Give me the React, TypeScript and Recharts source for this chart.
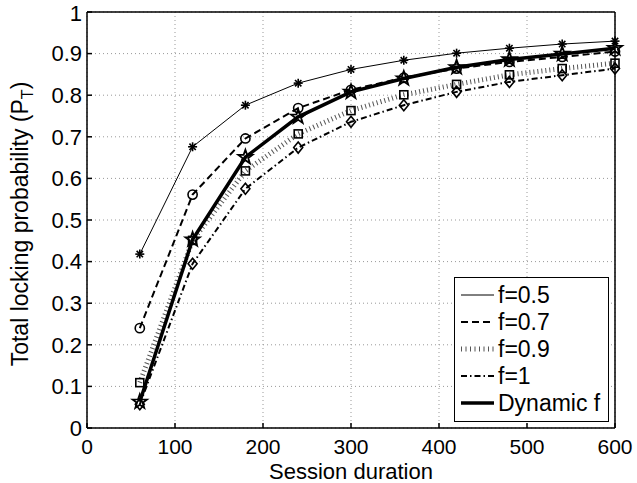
import React from "react";
import {
  LineChart,
  Line,
  XAxis,
  YAxis,
  CartesianGrid,
  Legend,
} from "recharts";

// session duration (x) and total locking probability per scheme
const sessionDuration = [60, 120, 180, 240, 300, 360, 420, 480, 540, 600];
const f05 = [0.418, 0.676, 0.776, 0.829, 0.862, 0.884, 0.901, 0.913, 0.923, 0.93];
const f07 = [0.24, 0.561, 0.696, 0.769, 0.813, 0.842, 0.864, 0.88, 0.892, 0.905];
const f09 = [0.109, 0.451, 0.618, 0.707, 0.763, 0.801, 0.826, 0.849, 0.864, 0.877];
const f1 = [0.057, 0.395, 0.575, 0.674, 0.736, 0.776, 0.808, 0.832, 0.848, 0.864];
const dynamicF = [0.063, 0.453, 0.651, 0.748, 0.808, 0.84, 0.867, 0.886, 0.899, 0.913];

const xTicks = [0, 100, 200, 300, 400, 500, 600];
const yTicks = [0, 0.1, 0.2, 0.3, 0.4, 0.5, 0.6, 0.7, 0.8, 0.9, 1];

const data = sessionDuration.map((x, i) => ({
  x,
  f05: f05[i],
  f07: f07[i],
  f09: f09[i],
  f1: f1[i],
  dyn: dynamicF[i],
}));

const FONT = '"Liberation Sans", Arial, Helvetica, sans-serif';

const Asterisk = ({ cx, cy }: any) => {
  const r = 4.5;
  const d = r * 0.707;
  return (
    <g stroke="#000" strokeWidth={1.6}>
      <line x1={cx - r} y1={cy} x2={cx + r} y2={cy} />
      <line x1={cx} y1={cy - r} x2={cx} y2={cy + r} />
      <line x1={cx - d} y1={cy - d} x2={cx + d} y2={cy + d} />
      <line x1={cx - d} y1={cy + d} x2={cx + d} y2={cy - d} />
    </g>
  );
};

const Circle = ({ cx, cy }: any) => (
  <circle cx={cx} cy={cy} r={4.6} fill="none" stroke="#000" strokeWidth={1.6} />
);

const Square = ({ cx, cy }: any) => (
  <rect x={cx - 4} y={cy - 4} width={8} height={8} fill="none" stroke="#000" strokeWidth={1.6} />
);

const Diamond = ({ cx, cy }: any) => (
  <polygon
    points={`${cx},${cy - 5.5} ${cx + 4.5},${cy} ${cx},${cy + 5.5} ${cx - 4.5},${cy}`}
    fill="none"
    stroke="#000"
    strokeWidth={1.6}
  />
);

const Pentagram = ({ cx, cy }: any) => {
  const R = 7.5;
  const r = R * 0.4;
  const pts: string[] = [];
  for (let i = 0; i < 10; i++) {
    const a = -Math.PI / 2 + (i * Math.PI) / 5;
    const rad = i % 2 === 0 ? R : r;
    pts.push(`${cx + rad * Math.cos(a)},${cy + rad * Math.sin(a)}`);
  }
  return <polygon points={pts.join(" ")} fill="none" stroke="#000" strokeWidth={1.8} />;
};

const series = [
  { key: "f05", name: "f=0.5", width: 1, dash: undefined, color: "#000", Marker: Asterisk },
  { key: "f07", name: "f=0.7", width: 2, dash: "7 4", color: "#000", Marker: Circle },
  { key: "f09", name: "f=0.9", width: 5, dash: "1 3", color: "#555", Marker: Square },
  { key: "f1", name: "f=1", width: 2, dash: "6 3 1.5 3", color: "#000", Marker: Diamond },
  { key: "dyn", name: "Dynamic f", width: 3.5, dash: undefined, color: "#000", Marker: Pentagram },
];

const LegendBox = () => (
  <div
    style={{
      width: 155,
      height: 145,
      boxSizing: "border-box",
      border: "1.5px solid #000",
      background: "#fff",
    }}
  >
    <svg width={152} height={142} style={{ display: "block" }}>
      {series.map((s, i) => {
        const y = 17 + i * 27;
        return (
          <g key={s.key}>
            <line
              x1={6}
              x2={39}
              y1={y}
              y2={y}
              stroke={s.color}
              strokeWidth={s.key === "f09" ? 5 : s.width}
              strokeDasharray={s.key === "f09" ? "1 3.5" : s.dash}
            />
            <text x={43} y={y + 8} fontSize={23} fontFamily={FONT} fill="#000">
              {s.name}
            </text>
          </g>
        );
      })}
    </svg>
  </div>
);

const YLabel = () => (
  <text
    x={28}
    y={224}
    transform="rotate(-90 28 224)"
    textAnchor="middle"
    fontSize={23}
    fontFamily={FONT}
    fill="#000"
  >
    Total locking probability (P
    <tspan fontSize={16} dy={5}>
      T
    </tspan>
    <tspan dy={-5}>)</tspan>
  </text>
);

export default function App() {
  return (
    <div style={{ position: "absolute", left: 0, top: 0, width: 637, height: 483, background: "#fff" }}>
      <LineChart
        width={637}
        height={483}
        data={data}
        margin={{ top: 11, right: 21, bottom: 0, left: 0 }}
        style={{ fontFamily: FONT }}
      >
        <CartesianGrid stroke="#999" strokeDasharray="1 3" />
        <XAxis
          dataKey="x"
          type="number"
          domain={[0, 600]}
          ticks={xTicks}
          height={55}
          stroke="#000"
          strokeWidth={1.5}
          tickSize={-5}
          tickMargin={16}
          tick={{ fill: "#000", fontSize: 21 }}
          label={{ value: "Session duration", position: "insideBottom", offset: 4, fill: "#000", fontSize: 22 }}
        />
        <XAxis
          xAxisId="top"
          orientation="top"
          type="number"
          domain={[0, 600]}
          ticks={xTicks}
          height={1}
          stroke="#000"
          strokeWidth={1.5}
          tickSize={-5}
          tick={false}
        />
        <YAxis
          type="number"
          domain={[0, 1]}
          ticks={yTicks}
          width={87}
          stroke="#000"
          strokeWidth={1.5}
          tickSize={-5}
          tickMargin={10}
          tick={{ fill: "#000", fontSize: 22 }}
          label={{ content: () => <YLabel /> }}
        />
        <YAxis
          yAxisId="right"
          orientation="right"
          type="number"
          domain={[0, 1]}
          ticks={yTicks}
          width={1}
          stroke="#000"
          strokeWidth={1.5}
          tickSize={-5}
          tick={false}
        />
        {series.map((s) => {
          const M = s.Marker;
          return (
            <Line
              key={s.key}
              dataKey={s.key}
              name={s.name}
              type="linear"
              stroke={s.color}
              strokeWidth={s.width}
              strokeDasharray={s.dash}
              dot={(p: any) => <M key={`${s.key}-${p.index}`} cx={p.cx} cy={p.cy} />}
              activeDot={false}
              isAnimationActive={false}
            />
          );
        })}
        <Legend
          layout="vertical"
          align="center"
          verticalAlign="middle"
          content={() => <LegendBox />}
          wrapperStyle={{ left: 454, top: 277, width: 155, height: 145 }}
        />
      </LineChart>
    </div>
  );
}
